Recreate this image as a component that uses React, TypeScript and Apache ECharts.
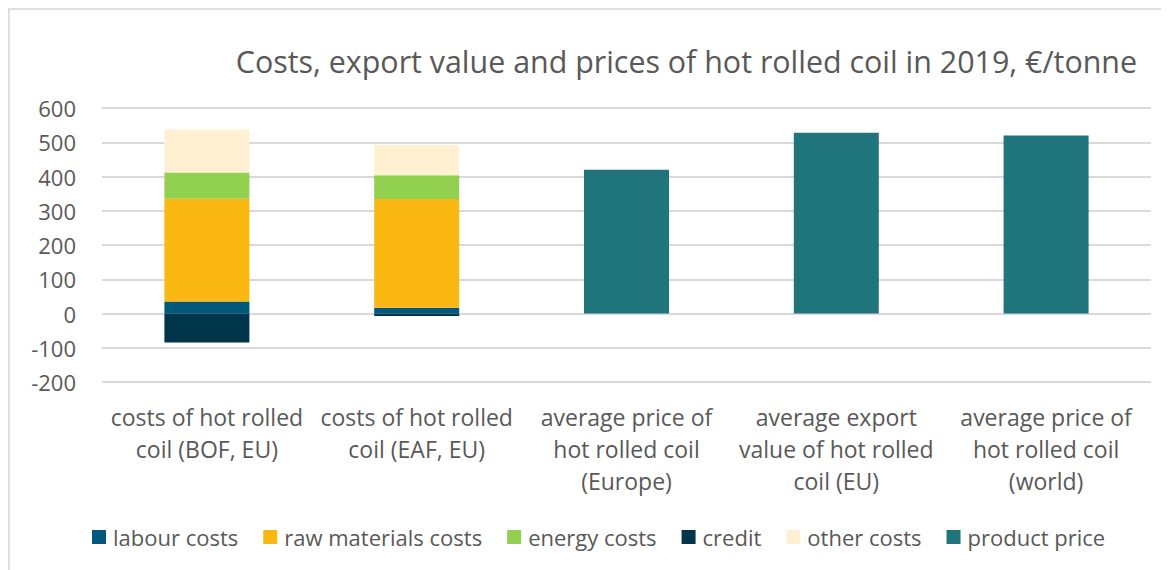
import React, { useEffect, useRef } from "react";
import * as echarts from "echarts";

const categories = [
  "costs of hot rolled\ncoil (BOF, EU)",
  "costs of hot rolled\ncoil (EAF, EU)",
  "average price of\nhot rolled coil\n(Europe)",
  "average export\nvalue of hot rolled\ncoil (EU)",
  "average price of\nhot rolled coil\n(world)",
];
const labourCosts = [35, 17, null, null, null];
const rawMaterialsCosts = [300, 317, null, null, null];
const energyCosts = [77, 70, null, null, null];
const credit = [-85, -7, null, null, null];
const otherCosts = [125, 88, null, null, null];
const productPrice = [null, null, 420, 528, 520];

const seriesNames = ["labour costs", "raw materials costs", "energy costs", "credit", "other costs", "product price"];
const seriesData = [labourCosts, rawMaterialsCosts, energyCosts, credit, otherCosts, productPrice];
const seriesColors = ["#00587c", "#fbb813", "#92d050", "#00364b", "#fff0d1", "#20757c"];

const FONT = "'Open Sans', 'Noto Sans', sans-serif";
const GRAY = "#595959";

export default function App() {
  const ref = useRef<HTMLDivElement>(null);
  useEffect(() => {
    if (!ref.current) return;
    const chart = echarts.init(ref.current, undefined, { renderer: "svg" });
    chart.setOption({
      animation: false,
      backgroundColor: "#ffffff",
      title: {
        text: "Costs, export value and prices of hot rolled coil in 2019, €/tonne",
        right: 27,
        top: 31,
        textStyle: { fontFamily: FONT, fontSize: 30.4, fontWeight: "normal", color: GRAY },
      },
      legend: {
        bottom: 17,
        left: 77,
        itemWidth: 14,
        itemHeight: 14,
        itemGap: 25,
        icon: "rect",
        data: seriesNames,
        textStyle: { fontFamily: FONT, fontSize: 22, color: GRAY, padding: [0, 0, 0, 2] },
      },
      grid: { left: 92, right: 18, top: 98, bottom: 188, containLabel: false },
      xAxis: {
        type: "category",
        data: categories,
        axisLine: { show: false },
        axisTick: { show: false },
        axisLabel: {
          fontFamily: FONT,
          fontSize: 23,
          color: GRAY,
          lineHeight: 32,
          margin: 19,
          interval: 0,
        },
      },
      yAxis: {
        type: "value",
        min: -200,
        max: 600,
        interval: 100,
        axisLine: { show: false },
        axisTick: { show: false },
        splitLine: { lineStyle: { color: "#d9d9d9", width: 2 } },
        axisLabel: { fontFamily: FONT, fontSize: 22, color: GRAY, margin: 26 },
      },
      series: seriesNames.map((name, i) => ({
        name,
        type: "bar",
        stack: "total",
        barWidth: 85,
        data: seriesData[i],
        itemStyle: { color: seriesColors[i] },
      })),
    });
    return () => chart.dispose();
  }, []);
  return (
    <div
      ref={ref}
      style={{
        width: 1161,
        height: 562,
        boxSizing: "border-box",
        borderTop: "2px solid #dedede",
        borderLeft: "2px solid #dedede",
      }}
    />
  );
}
